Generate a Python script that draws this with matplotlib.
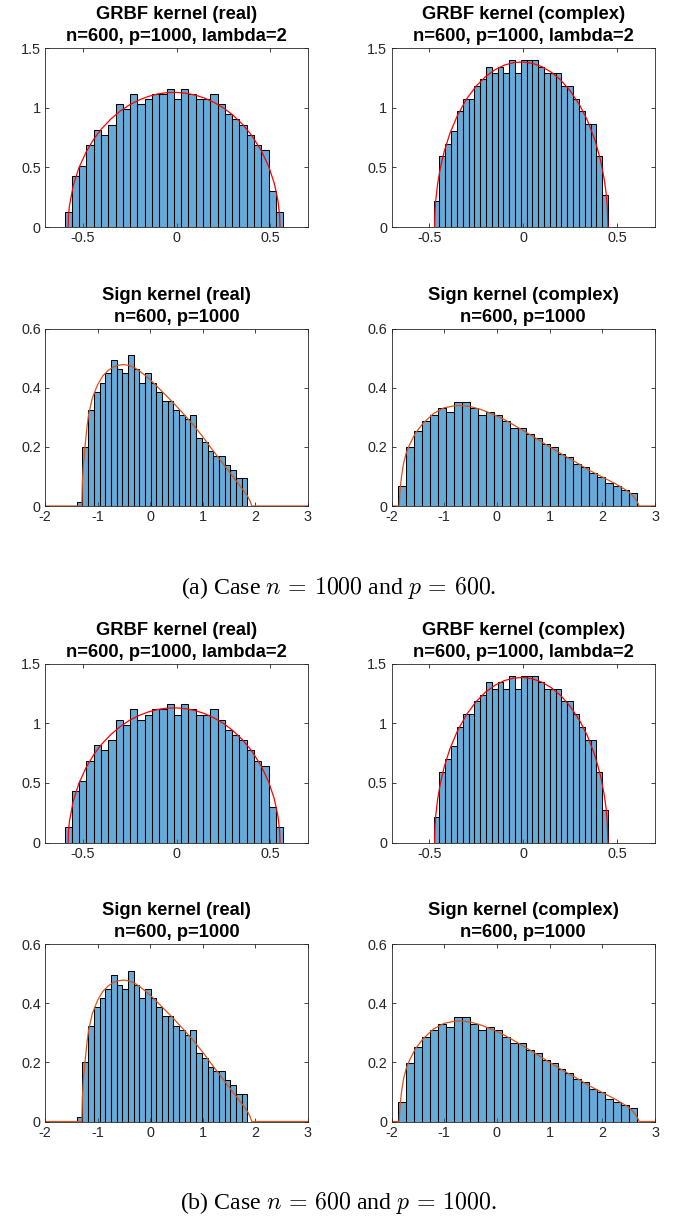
import numpy as np
import matplotlib
matplotlib.use("Agg")
import matplotlib.pyplot as plt

plt.rcParams['font.family'] = ['Liberation Sans', 'DejaVu Sans']
plt.rcParams['mathtext.fontset'] = 'cm'

# ---------------- data ----------------
# GRBF kernel (real): histogram densities, bins from grbf_real_lo to grbf_real_hi
grbf_real_lo, grbf_real_hi = -0.596, 0.568
grbf_real_h = [0.127, 0.429, 0.515, 0.686, 0.815, 0.772, 0.858, 1.029, 0.986, 1.115,
               1.029, 1.072, 1.115, 1.115, 1.158, 1.072, 1.158, 1.115, 1.072, 1.072,
               1.115, 1.029, 0.943, 0.901, 0.858, 0.772, 0.686, 0.643, 0.300, 0.127]
grbf_real_cx = [-0.577, -0.575, -0.57, -0.55, -0.52, -0.48, -0.44, -0.40, -0.35, -0.30,
                -0.25, -0.20, -0.15, -0.10, -0.05, 0.0, 0.05, 0.10, 0.15, 0.20,
                0.25, 0.30, 0.35, 0.40, 0.45, 0.49, 0.52, 0.54, 0.549, 0.551]
grbf_real_cy = [0.0, 0.095, 0.177, 0.345, 0.494, 0.632, 0.737, 0.821, 0.904, 0.971,
                1.024, 1.064, 1.094, 1.115, 1.126, 1.128, 1.121, 1.105, 1.080, 1.044,
                0.998, 0.938, 0.863, 0.768, 0.644, 0.510, 0.369, 0.222, 0.095, 0.0]

# GRBF kernel (complex)
grbf_cplx_lo, grbf_cplx_hi = -0.476, 0.450
grbf_cplx_h = [0.215, 0.592, 0.699, 0.806, 0.968, 1.075, 1.075, 1.183, 1.237, 1.344,
               1.290, 1.344, 1.290, 1.398, 1.290, 1.398, 1.398, 1.398, 1.344, 1.290,
               1.290, 1.290, 1.183, 1.183, 1.075, 0.968, 0.860, 0.860, 0.592, 0.269]
grbf_cplx_cx = [-0.471, -0.469, -0.465, -0.455, -0.44, -0.42, -0.39, -0.35, -0.30, -0.25,
                -0.20, -0.15, -0.10, -0.05, 0.0, 0.05, 0.10, 0.15, 0.20, 0.25,
                0.30, 0.34, 0.38, 0.41, 0.43, 0.44, 0.446, 0.45]
grbf_cplx_cy = [0.0, 0.129, 0.223, 0.361, 0.499, 0.633, 0.783, 0.934, 1.076, 1.181,
                1.261, 1.318, 1.357, 1.378, 1.383, 1.371, 1.343, 1.296, 1.230, 1.140,
                1.021, 0.897, 0.733, 0.564, 0.403, 0.287, 0.182, 0.0]

# Sign kernel (real)
sign_real_lo, sign_real_hi = -1.396, 1.847
sign_real_h = [0.015, 0.201, 0.324, 0.386, 0.417, 0.448, 0.494, 0.463, 0.448, 0.509,
               0.463, 0.417, 0.448, 0.417, 0.386, 0.355, 0.355, 0.324, 0.309, 0.293,
               0.309, 0.231, 0.216, 0.185, 0.170, 0.170, 0.139, 0.123, 0.093, 0.093]
sign_real_cx = [-2.0, -1.30, -1.29, -1.27, -1.24, -1.20, -1.17, -1.10, -1.00, -0.90,
                -0.80, -0.70, -0.60, -0.50, -0.40, -0.30, -0.20, -0.10, 0.0, 0.20,
                0.40, 0.60, 0.80, 1.00, 1.20, 1.40, 1.60, 1.75, 1.85, 1.90,
                1.93, 3.0]
sign_real_cy = [0.0, 0.0, 0.08, 0.14, 0.20, 0.27, 0.31, 0.365, 0.41, 0.44,
                0.458, 0.470, 0.476, 0.478, 0.475, 0.468, 0.456, 0.442, 0.427, 0.392,
                0.356, 0.318, 0.278, 0.234, 0.186, 0.140, 0.093, 0.058, 0.034, 0.016,
                0.0, 0.0]

# Sign kernel (complex)
sign_cplx_lo, sign_cplx_hi = -1.880, 2.665
sign_cplx_h = [0.066, 0.198, 0.253, 0.286, 0.308, 0.330, 0.319, 0.352, 0.352, 0.330,
               0.308, 0.319, 0.308, 0.286, 0.264, 0.264, 0.242, 0.231, 0.209, 0.198,
               0.176, 0.165, 0.143, 0.132, 0.110, 0.099, 0.077, 0.066, 0.055, 0.044]
sign_cplx_cx = [-2.0, -1.854, -1.84, -1.81, -1.77, -1.72, -1.65, -1.55, -1.40, -1.20,
                -1.00, -0.80, -0.70, -0.50, -0.30, -0.10, 0.10, 0.30, 0.50, 0.75,
                1.00, 1.25, 1.50, 1.75, 2.00, 2.25, 2.45, 2.55, 2.62, 2.67,
                2.70, 3.0]
sign_cplx_cy = [0.0, 0.0, 0.05, 0.10, 0.145, 0.18, 0.21, 0.245, 0.28, 0.313,
                0.332, 0.339, 0.340, 0.336, 0.326, 0.312, 0.296, 0.276, 0.255, 0.228,
                0.200, 0.173, 0.148, 0.121, 0.098, 0.075, 0.054, 0.040, 0.026, 0.012,
                0.0, 0.0]

titles = ["GRBF kernel (real)\nn=600, p=1000, lambda=2",
          "GRBF kernel (complex)\nn=600, p=1000, lambda=2",
          "Sign kernel (real)\nn=600, p=1000",
          "Sign kernel (complex)\nn=600, p=1000"]
captions = [r"(a) Case $n\,=\,1000$ and $p\,=\,600$.",
            r"(b) Case $n\,=\,600$ and $p\,=\,1000$."]
grbf_xticks = [-0.5, 0, 0.5]
grbf_xticklabels = ["-0.5", "0", "0.5"]
grbf_yticks = [0, 0.5, 1, 1.5]
grbf_yticklabels = ["0", "0.5", "1", "1.5"]
sign_xticks = [-2, -1, 0, 1, 2, 3]
sign_xticklabels = ["-2", "-1", "0", "1", "2", "3"]
sign_yticks = [0, 0.2, 0.4, 0.6]
sign_yticklabels = ["0", "0.2", "0.4", "0.6"]

# ---------------- figure ----------------
W, H = 677, 1218
fig = plt.figure(figsize=(W / 100, H / 100), dpi=100)

bar_color = (0.0, 0.447, 0.741, 0.6)
axis_color = '#262626'

panels = [
    dict(lo=grbf_real_lo, hi=grbf_real_hi, h=grbf_real_h, cx=grbf_real_cx, cy=grbf_real_cy,
         color='red', xlim=(-0.7, 0.7), ylim=(0, 1.5), xt=grbf_xticks, xtl=grbf_xticklabels,
         yt=grbf_yticks, ytl=grbf_yticklabels, title=titles[0]),
    dict(lo=grbf_cplx_lo, hi=grbf_cplx_hi, h=grbf_cplx_h, cx=grbf_cplx_cx, cy=grbf_cplx_cy,
         color='red', xlim=(-0.7, 0.7), ylim=(0, 1.5), xt=grbf_xticks, xtl=grbf_xticklabels,
         yt=grbf_yticks, ytl=grbf_yticklabels, title=titles[1]),
    dict(lo=sign_real_lo, hi=sign_real_hi, h=sign_real_h, cx=sign_real_cx, cy=sign_real_cy,
         color='#D95319', xlim=(-2, 3), ylim=(0, 0.6), xt=sign_xticks, xtl=sign_xticklabels,
         yt=sign_yticks, ytl=sign_yticklabels, title=titles[2]),
    dict(lo=sign_cplx_lo, hi=sign_cplx_hi, h=sign_cplx_h, cx=sign_cplx_cx, cy=sign_cplx_cy,
         color='#D95319', xlim=(-2, 3), ylim=(0, 0.6), xt=sign_xticks, xtl=sign_xticklabels,
         yt=sign_yticks, ytl=sign_yticklabels, title=titles[3]),
]

# pixel boxes (left, top, width, height) for the top half
boxes = [(45, 48, 263, 179), (391.5, 48, 263.5, 179),
         (45, 328.5, 263, 177.5), (391.5, 328.5, 263.5, 177.5)]
half_offset = 615.5
caption_y = [588, 1203]

for half in range(2):
    for p, (l, t, w, hgt) in zip(panels, boxes):
        t2 = t + half * half_offset
        ax = fig.add_axes([l / W, 1 - (t2 + hgt) / H, w / W, hgt / H])
        edges = np.linspace(p['lo'], p['hi'], len(p['h']) + 1)
        ax.bar(edges[:-1], p['h'], width=np.diff(edges), align='edge',
               color=bar_color, edgecolor='black', linewidth=0.75, zorder=2)
        ax.plot(p['cx'], p['cy'], color=p['color'], linewidth=0.9, zorder=3)
        ax.set_xlim(*p['xlim'])
        ax.set_ylim(*p['ylim'])
        ax.set_xticks(p['xt'])
        ax.set_xticklabels(p['xtl'])
        ax.set_yticks(p['yt'])
        ax.set_yticklabels(p['ytl'])
        ax.tick_params(direction='in', length=3, width=0.6, top=True, right=True,
                       labelsize=10.4, colors=axis_color, pad=3)
        for s in ax.spines.values():
            s.set_color(axis_color)
            s.set_linewidth(0.6)
            s.set_zorder(4)
        ax.set_title(p['title'], fontsize=13.2, fontweight='bold', color='black',
                     linespacing=1.36, pad=5)

    fig.text(0.5, 1 - caption_y[half] / H, captions[half], ha='center', va='center',
             fontsize=17.2, family='Liberation Serif')

fig.savefig("out.png", dpi=100)
